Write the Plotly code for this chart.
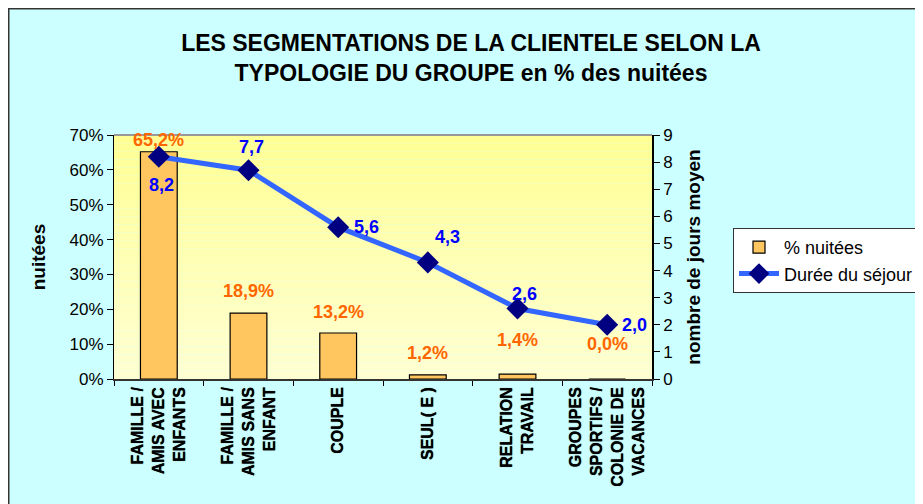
import plotly.graph_objects as go

# ---------------- data ----------------
categories = [
    "FAMILLE /<br>AMIS AVEC<br>ENFANTS",
    "FAMILLE /<br>AMIS SANS<br>ENFANT",
    "COUPLE",
    "SEUL( E )",
    "RELATION<br>TRAVAIL",
    "GROUPES<br>SPORTIFS /<br>COLONIE DE<br>VACANCES",
]
nuitees = [0.652, 0.189, 0.132, 0.012, 0.014, 0.000]
duree = [8.2, 7.7, 5.6, 4.3, 2.6, 2.0]
pct_ticks = [0, 0.1, 0.2, 0.3, 0.4, 0.5, 0.6, 0.7]
pct_ticktext = ["0%", "10%", "20%", "30%", "40%", "50%", "60%", "70%"]
day_ticks = [0, 1, 2, 3, 4, 5, 6, 7, 8, 9]

# label offsets (style only, in pixels)
bar_lbl_yshift = [12, 22, 21, 22, 34, 35]
line_lbl_xshift = [3, 3, 28, 20, 7, 27]
line_lbl_yshift = [-28, 23, 0, 25, 15, 0]

FONT = "Liberation Sans, Arial, sans-serif"
OFF = 8                      # default page body margin
W, H = 923 - OFF, 504 - OFF  # figure size so that it fills the window
# plot area in page pixels: x 114..652, y 135..379
ML = 114 - OFF
MT = 135 - OFF
MR = W - (652 - OFF)
MB = H - (379 - OFF)
PW, PH = W - ML - MR, H - MT - MB


def px_x(page_px):
    return (page_px - OFF - ML) / PW


def px_y(page_px):
    return (H - MB - (page_px - OFF)) / PH


cat_ticktext = ["<br>".join("<b>%s</b>" % part for part in c.split("<br>"))
                for c in categories]

fig = go.Figure()

fig.add_trace(go.Bar(
    x=categories, y=nuitees, name="% nuitées",
    marker=dict(color="#FFC660", line=dict(color="#000000", width=1.2)),
    width=0.41, yaxis="y",
))
fig.add_trace(go.Scatter(
    x=categories, y=duree, name="Durée du séjour", yaxis="y2",
    mode="lines+markers",
    line=dict(color="#3366FF", width=5),
    marker=dict(symbol="diamond", size=17, color="#000080"),
    cliponaxis=False,
))

# ---------------- shapes (background frame + plot-area gradient) -------------
shapes = [dict(
    type="rect", xref="paper", yref="paper", layer="below",
    x0=px_x(8.5), x1=px_x(960), y0=px_y(540), y1=px_y(8.5),
    fillcolor="#CCFFFF", line=dict(color="#333333", width=2),
)]
n = 30
top_c = (255, 255, 150)
bot_c = (255, 255, 210)
for i in range(n):
    t = i / (n - 1)
    c = tuple(round(top_c[k] + (bot_c[k] - top_c[k]) * t) for k in range(3))
    y1 = 1 - i / n
    y0 = 1 - (i + 1) / n
    shapes.append(dict(
        type="rect", xref="paper", yref="paper", layer="below",
        x0=0, x1=1, y0=y0, y1=y1,
        fillcolor="rgb(%d,%d,%d)" % c, line=dict(width=0),
    ))
shapes.append(dict(
    type="line", xref="paper", yref="paper", layer="below",
    x0=0, x1=1, y0=1, y1=1, line=dict(color="#999999", width=2),
))

# ---------------- annotations ----------------
annotations = []
for i, (c, v) in enumerate(zip(categories, nuitees)):
    annotations.append(dict(
        x=c, y=v, xref="x", yref="y",
        text=("%.1f%%" % (v * 100)).replace(".", ","),
        showarrow=False, yshift=bar_lbl_yshift[i],
        font=dict(family=FONT, size=18, color="#FF6600", weight="bold"),
    ))
for i, (c, v) in enumerate(zip(categories, duree)):
    annotations.append(dict(
        x=c, y=v, xref="x", yref="y2",
        text=("%.1f" % v).replace(".", ","),
        showarrow=False, xshift=line_lbl_xshift[i], yshift=line_lbl_yshift[i],
        font=dict(family=FONT, size=18, color="#0000FF", weight="bold"),
    ))

fig.update_layout(
    width=W, height=H,
    margin=dict(l=ML, r=MR, t=MT, b=MB, autoexpand=False),
    paper_bgcolor="#FFFFFF",
    plot_bgcolor="rgba(0,0,0,0)",
    font=dict(family=FONT, color="#000000"),
    title=dict(
        text="LES SEGMENTATIONS DE LA CLIENTELE SELON LA<br>TYPOLOGIE DU GROUPE en % des nuitées",
        x=(471 - OFF) / W, xanchor="center", xref="container",
        y=1 - 43 / H, yanchor="top", yref="container",
        font=dict(family=FONT, size=23, color="#000000", weight="bold"),
    ),
    xaxis=dict(
        type="category", tickangle=-90, tickson="boundaries",
        tickvals=categories, ticktext=cat_ticktext,
        ticks="outside", ticklen=5, tickcolor="#000000",
        showline=True, linecolor="#333333", linewidth=1.5,
        showgrid=False, zeroline=False,
        tickfont=dict(family=FONT, size=16, color="#000000", weight="bold",
                      shadow="0px 0px 0.7px #000000"),
    ),
    yaxis=dict(
        range=[0, 0.7], tickvals=pct_ticks, ticktext=pct_ticktext,
        ticks="outside", ticklen=6, tickcolor="#000000",
        showline=True, linecolor="#000000", linewidth=1,
        showgrid=False, zeroline=False,
        tickfont=dict(family=FONT, size=17, color="#000000"),
        title=dict(text="nuitées", standoff=18,
                   font=dict(family=FONT, size=19, color="#000000", weight="bold")),
    ),
    yaxis2=dict(
        range=[0, 9], tickvals=day_ticks, overlaying="y", side="right",
        ticks="outside", ticklen=6, tickcolor="#000000",
        showline=True, linecolor="#000000", linewidth=1.5,
        showgrid=False, zeroline=False,
        tickfont=dict(family=FONT, size=17, color="#000000"),
        title=dict(text="nombre de jours moyen", standoff=15,
                   font=dict(family=FONT, size=19, color="#000000", weight="bold")),
    ),
    legend=dict(
        x=px_x(733), y=px_y(228), xanchor="left", yanchor="top",
        xref="paper", yref="paper",
        bgcolor="#FFFFFF", bordercolor="#333333", borderwidth=1,
        font=dict(family=FONT, size=18, color="#000000"),
        itemwidth=40,
    ),
    showlegend=True,
    shapes=shapes,
    annotations=annotations,
)

fig.write_html("out.html")
